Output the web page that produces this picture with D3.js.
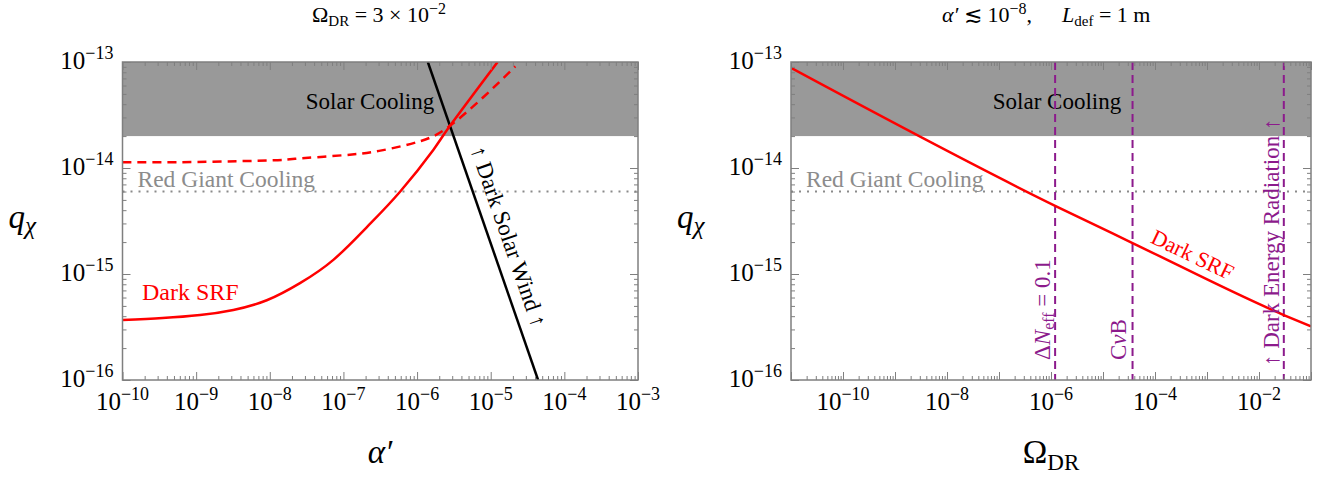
<!DOCTYPE html>
<html>
<head>
<meta charset="utf-8">
<script src="https://cdn.jsdelivr.net/npm/d3@7"></script>
<style>
  body { margin: 0; background: #fff; }
  svg, svg text { font-family: "Liberation Serif", "Times New Roman", Tinos, "DejaVu Serif", "Noto Serif", serif; }
</style>
</head>
<body>
<div class="canvas"></div>
<script>
// ---- data ----
const qDecades = [1e-16, 1e-15, 1e-14, 1e-13]
const alphaDecades = [1e-10, 1e-9, 1e-8, 1e-7, 1e-6, 1e-5, 1e-4, 1e-3]
const omegaLabels = [1e-10, 1e-8, 1e-6, 1e-4, 1e-2]

const solarCoolingQ = [2e-14, 1e-13]
const redGiantQ = 6e-15

// left panel: Omega_DR = 3e-2
const srfAlpha = [1e-10, 3.5e-10, 1.13e-9, 3.2e-9, 9.1e-9, 2.57e-8, 7.3e-8, 2.07e-7, 5.87e-7, 1.66e-6, 2.8e-6, 1.24e-5]
const srfQ = [3.68e-16, 3.84e-16, 4.1e-16, 4.58e-16, 5.65e-16, 8.2e-16, 1.36e-15, 2.76e-15, 5.97e-15, 1.48e-14, 2.5e-14, 1e-13]
const srfDashAlpha = [1e-10, 1e-9, 1e-8, 2.2e-8, 1e-7, 3.05e-7, 1.13e-6, 2.8e-6, 8.05e-6, 2.16e-5]
const srfDashQ = [1.13e-14, 1.14e-14, 1.18e-14, 1.22e-14, 1.32e-14, 1.45e-14, 1.8e-14, 2.5e-14, 4.7e-14, 9.1e-14]
const windAlpha = [1.4e-6, 4.4e-5]
const windQ = [1e-13, 1e-16]

// right panel: alpha' < 1e-8, L_def = 1 m
const srfOmega = [1e-11, 1.2e-6, 3.7e-5, 3e-2, 1e-1]
const srfOmegaQ = [8.8e-14, 4.4e-15, 1.96e-15, 4.1e-16, 3.2e-16]
const boundOmega = [1.2e-6, 3.7e-5, 3e-2]

const svg = d3.select('.canvas')
  .append('svg')
    .attr('width', 1331)
    .attr('height', 477)
    .attr('font-family', '"Liberation Serif", "Times New Roman", serif')

const plotTop = 62, plotBottom = 380
const axisGray = '#7f7f7f'
const purple = '#8c1a8c'

// "10^n" label as text + tspans
const powLabel = (sel, v, size, supSize) => {
  const e = Math.round(Math.log10(v))
  sel.append('tspan').attr('font-size', size).text('10')
  sel.append('tspan').attr('font-size', supSize).attr('dy', -size * 0.42)
    .text('\u2212' + Math.abs(e))
}

const isDecade = t => Math.abs(Math.log10(t) - Math.round(Math.log10(t))) < 1e-6

const drawFrame = (g, x, y, xMajor, xMinorCount, xLabels) => {
  const [x0, x1] = x.range()
  const minorX = x.ticks(xMinorCount).filter(t => !isDecade(t))
  const minorY = y.ticks().filter(t => !isDecade(t))

  const axes = [
    [() => d3.axisBottom(x), `translate(0,${plotBottom})`, xMajor, minorX],
    [() => d3.axisTop(x), `translate(0,${plotTop})`, xMajor, minorX],
    [() => d3.axisLeft(y), `translate(${x0},0)`, qDecades, minorY],
    [() => d3.axisRight(y), `translate(${x1},0)`, qDecades, minorY]
  ]
  axes.forEach(([axis, tr, major, minor]) => {
    g.append('g').attr('transform', tr)
      .call(axis().tickValues(minor).tickSize(-4).tickFormat(''))
      .call(a => a.select('.domain').remove())
    g.append('g').attr('transform', tr)
      .call(axis().tickValues(major).tickSize(-8).tickFormat(''))
      .call(a => a.select('.domain').remove())
  })
  g.selectAll('.tick line').attr('stroke', axisGray).attr('stroke-width', 1)

  g.append('rect')
    .attr('x', x0).attr('y', plotTop)
    .attr('width', x1 - x0).attr('height', plotBottom - plotTop)
    .attr('fill', 'none').attr('stroke', axisGray).attr('stroke-width', 1.5)

  // tick labels
  g.selectAll('.xlab').data(xLabels).enter()
    .append('text')
      .attr('x', d => x(d)).attr('y', plotBottom + 30)
      .attr('text-anchor', 'middle')
      .each(function(d) { powLabel(d3.select(this), d, 25, 18) })
  g.selectAll('.ylab').data(qDecades).enter()
    .append('text')
      .attr('x', x0 - 9).attr('y', d => y(d) + 7)
      .attr('text-anchor', 'end')
      .each(function(d) { powLabel(d3.select(this), d, 25, 18) })

  // y title
  const yt = g.append('text').attr('x', x0 - 114).attr('y', 228)
    .attr('font-style', 'italic')
  yt.append('tspan').attr('font-size', 33).text('q')
  yt.append('tspan').attr('font-size', 25).attr('dy', 6).text('\u03c7')
}

const drawBands = (g, x, y, clipId, solarX) => {
  const [x0, x1] = x.range()
  svg.append('clipPath').attr('id', clipId)
    .append('rect').attr('x', x0).attr('y', plotTop).attr('width', x1 - x0).attr('height', plotBottom - plotTop)

  g.append('rect')
    .attr('x', x0).attr('width', x1 - x0)
    .attr('y', y(solarCoolingQ[1]))
    .attr('height', y(solarCoolingQ[0]) - y(solarCoolingQ[1]))
    .attr('fill', '#999999')

  g.append('line')
    .attr('x1', x0).attr('x2', x1)
    .attr('y1', y(redGiantQ)).attr('y2', y(redGiantQ))
    .attr('stroke', '#8a8a8a').attr('stroke-width', 2)
    .attr('stroke-dasharray', '2,6')

  g.append('text')
    .attr('x', solarX).attr('y', 109)
    .attr('text-anchor', 'middle').attr('font-size', 23)
    .text('Solar Cooling')

  g.append('text')
    .attr('x', x0 + 15).attr('y', 187)
    .attr('font-size', 23.5).attr('fill', '#8c8c8c')
    .text('Red Giant Cooling')
}

// ---------------- left panel ----------------
const xL = d3.scaleLog().domain([1e-10, 1e-3]).range([122.5, 638])
const yL = d3.scaleLog().domain([1e-16, 1e-13]).range([plotBottom, plotTop])
const left = svg.append('g')

drawBands(left, xL, yL, 'clipL', 370)

const lineL = d3.line().x(d => xL(d[0])).y(d => yL(d[1])).curve(d3.curveNatural)
const curvesL = left.append('g').attr('clip-path', 'url(#clipL)')

curvesL.append('path')
  .attr('d', lineL(d3.zip(windAlpha, windQ)))
  .attr('fill', 'none').attr('stroke', '#000').attr('stroke-width', 2.5)

curvesL.append('path')
  .attr('d', lineL(d3.zip(srfDashAlpha, srfDashQ)))
  .attr('fill', 'none').attr('stroke', '#ff0000').attr('stroke-width', 2.5)
  .attr('stroke-dasharray', '9,6')

curvesL.append('path')
  .attr('d', lineL(d3.zip(srfAlpha, srfQ)))
  .attr('fill', 'none').attr('stroke', '#ff0000').attr('stroke-width', 2.5)

drawFrame(left, xL, yL, alphaDecades, 10, alphaDecades)

left.append('text')
  .attr('x', 142).attr('y', 300)
  .attr('font-size', 24).attr('fill', '#ff0000')
  .text('Dark SRF')

// label along the dark solar wind line
const windAngle = Math.atan2(yL(windQ[1]) - yL(windQ[0]), xL(windAlpha[1]) - xL(windAlpha[0])) * 180 / Math.PI
left.append('text')
  .attr('transform', `translate(507,237) rotate(${windAngle})`)
  .attr('text-anchor', 'middle').attr('dy', 6)
  .attr('font-size', 23)
  .text('\u2191 Dark Solar Wind \u2191')

const tL = left.append('text')
  .attr('x', 379).attr('y', 22)
  .attr('text-anchor', 'middle').attr('font-size', 22)
tL.append('tspan').text('\u03a9')
tL.append('tspan').attr('font-size', 15).attr('dy', 4).text('DR')
tL.append('tspan').attr('dy', -4).text(' = 3 \u00d7 10')
tL.append('tspan').attr('font-size', 16).attr('dy', -8).text('\u22122')

const xtL = left.append('text')
  .attr('x', 380).attr('y', 463)
  .attr('text-anchor', 'middle').attr('font-size', 33).attr('font-style', 'italic')
xtL.append('tspan').text('\u03b1\u2032')

// ---------------- right panel ----------------
const xR = d3.scaleLog().domain([1e-11, 1e-1]).range([791, 1311])
const yR = d3.scaleLog().domain([1e-16, 1e-13]).range([plotBottom, plotTop])
const right = svg.append('g')

drawBands(right, xR, yR, 'clipR', 1057)

const lineR = d3.line().x(d => xR(d[0])).y(d => yR(d[1])).curve(d3.curveMonotoneX)
const curvesR = right.append('g').attr('clip-path', 'url(#clipR)')

curvesR.selectAll('.bound').data(boundOmega).enter()
  .append('line')
    .attr('x1', d => xR(d)).attr('x2', d => xR(d))
    .attr('y1', plotTop).attr('y2', plotBottom)
    .attr('stroke', purple).attr('stroke-width', 2)
    .attr('stroke-dasharray', '8,5')

curvesR.append('path')
  .attr('d', lineR(d3.zip(srfOmega, srfOmegaQ)))
  .attr('fill', 'none').attr('stroke', '#ff0000').attr('stroke-width', 2.5)

const allOmegaDecades = xR.ticks(40).filter(isDecade)
drawFrame(right, xR, yR, allOmegaDecades, 40, omegaLabels)

// bound labels
const bl1 = right.append('text')
  .attr('transform', `translate(${xR(boundOmega[0]) - 5},360) rotate(-90)`)
  .attr('font-size', 23).attr('fill', purple)
bl1.append('tspan').text('\u0394')
bl1.append('tspan').attr('font-style', 'italic').text('N')
bl1.append('tspan').attr('font-size', 16).attr('dy', 4).text('eff')
bl1.append('tspan').attr('dy', -4).text(' = 0.1')

const bl2 = right.append('text')
  .attr('transform', `translate(${xR(boundOmega[1]) - 7},360) rotate(-90)`)
  .attr('font-size', 23).attr('fill', purple)
bl2.append('tspan').text('C')
bl2.append('tspan').attr('font-style', 'italic').text('\u03bd')
bl2.append('tspan').text('B')

right.append('text')
  .attr('transform', `translate(${xR(boundOmega[2]) - 5},366) rotate(-90)`)
  .attr('font-size', 23).attr('fill', purple)
  .text('\u2191 Dark Energy Radiation \u2191')

// Dark SRF label along the line
const srfAngle = Math.atan2(yR(srfOmegaQ[3]) - yR(srfOmegaQ[1]), xR(srfOmega[3]) - xR(srfOmega[1])) * 180 / Math.PI
right.append('text')
  .attr('transform', `translate(1192,256) rotate(${srfAngle})`)
  .attr('text-anchor', 'middle').attr('dy', 6)
  .attr('font-size', 22).attr('fill', '#ff0000')
  .text('Dark SRF')

const tR = right.append('text')
  .attr('x', 942).attr('y', 22)
  .attr('font-size', 22)
tR.append('tspan').attr('font-style', 'italic').text('\u03b1\u2032')
tR.append('tspan').text(' \u2272 10')
tR.append('tspan').attr('font-size', 16).attr('dy', -8).text('\u22128')
tR.append('tspan').attr('dy', 8).text(',')
tR.append('tspan').attr('x', 1062).attr('font-style', 'italic').text('L')
tR.append('tspan').attr('font-size', 15).attr('dy', 4).text('def')
tR.append('tspan').attr('dy', -4).text(' = 1 m')

const xtR = right.append('text')
  .attr('x', 1051).attr('y', 463)
  .attr('text-anchor', 'middle').attr('font-size', 33)
xtR.append('tspan').text('\u03a9')
xtR.append('tspan').attr('font-size', 23).attr('dy', 7).text('DR')
</script>
</body>
</html>
